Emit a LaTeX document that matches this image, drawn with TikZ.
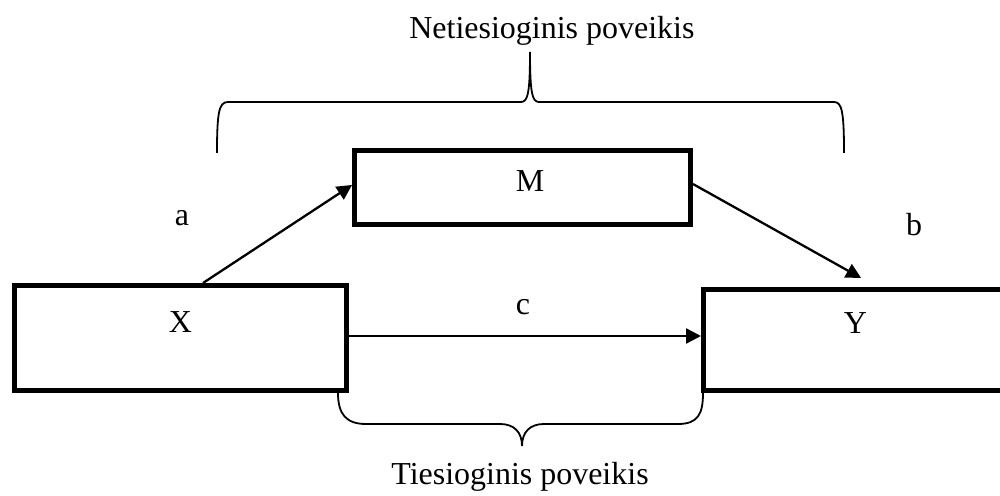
\documentclass[tikz,border=0pt]{standalone}
\usepackage{fontspec}
\setmainfont{Liberation Serif}
\usetikzlibrary{arrows.meta,calc}
\begin{document}
\begin{tikzpicture}[x=0.02cm,y=-0.02cm,
  box/.style={draw,line width=0.09cm,rectangle,inner sep=0pt},
  lbl/.style={font=\fontsize{18.2}{20}\selectfont,inner sep=0pt,anchor=base},
  arr/.style={line width=0.046cm,-{Triangle[length=0.3cm,width=0.3cm]}},
  brace/.style={line width=0.036cm}]
\clip (0,0) rectangle (1000,496);

% variable boxes
\node[box,minimum width=6.65cm,minimum height=2.11cm] (X) at (180.5,338) {};
\node[box,minimum width=6.73cm,minimum height=1.49cm] (M) at (522.5,187.5) {};
\node[box,minimum width=6.735cm,minimum height=2.03cm] (Y) at (871.6,340) {};

% box captions
\node[lbl] (Xt) at (180.5,333) {X};
\node[lbl] (Mt) at (530,192) {M};
\node[lbl] (Yt) at (855.5,334) {Y};

% paths between the variables
\draw[arr] ([xshift=0.45cm]X.north) -- ([yshift=0.05cm]M.west);
\draw[arr] ([yshift=0.07cm]M.east) -- ([xshift=-0.21cm,yshift=0.18cm]Y.north);
\draw[arr] ([yshift=0.04cm]X.east) -- ([yshift=0.04cm]X.east -| Y.west);

% path labels
\node[lbl] (la) at (182,226) {a};
\node[lbl] (lb) at (914,236) {b};
\node[lbl] (lc) at (523,315) {c};

% indirect effect brace
\draw[brace] (217,153) .. controls (217,112) and (219,102) .. (228,102)
  -- (521,102) .. controls (528,102) and (530,92) .. (530,52)
  .. controls (530,92) and (532,102) .. (539,102)
  -- (834,102) .. controls (842,102) and (844,112) .. (844,153);
\node[lbl,anchor=base west] (ind) at (409,39) {Netiesioginis poveikis};

% direct effect brace
\draw[brace] (338,393) .. controls (338,414) and (346,424) .. (366,424)
  -- (500,424) .. controls (514,424) and (522,432) .. (522,446)
  .. controls (522,432) and (530,424) .. (544,424)
  -- (678,424) .. controls (698,424) and (703,414) .. (703,393);
\node[lbl,anchor=base west] (dir) at (391,484) {Tiesioginis poveikis};
\end{tikzpicture}
\end{document}
